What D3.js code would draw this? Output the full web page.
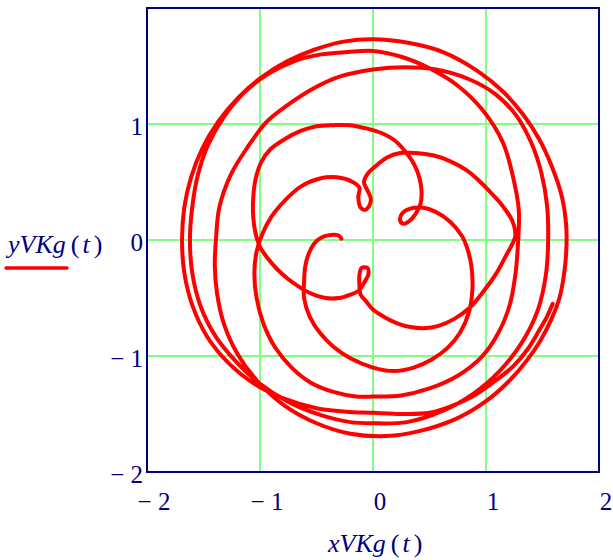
<!DOCTYPE html>
<html>
<head>
<meta charset="utf-8">
<script src="https://cdn.jsdelivr.net/npm/d3@7"></script>
<style>
  html, body { margin: 0; padding: 0; background: #ffffff; }
  svg { display: block; }
  text { font-family: "Liberation Serif", "Times New Roman", serif; fill: #000080; }
</style>
</head>
<body>
<svg id="chart" width="613" height="560"></svg>
<script>
// Parametric trajectory (xVKg(t), yVKg(t)), listed in order of t.
const xVKg = [
  -0.28, -0.30, -0.34, -0.40, -0.46, -0.52, -0.57, -0.60, -0.61,
  -0.61, -0.56, -0.47, -0.35, -0.20, 0.00, 0.18, 0.36, 0.52, 0.66, 0.77, 0.85, 0.88, 0.87, 0.83, 0.79, 0.68, 0.55, 0.43,
  0.33, 0.26, 0.24, 0.27, 0.33, 0.38, 0.42, 0.43, 0.41, 0.36, 0.28, 0.19,
  0.08, -0.05, -0.20, -0.35, -0.50, -0.64, -0.78, -0.91, -0.99, -1.04, -1.06, -1.06, -1.04, -1.00,
  -0.93, -0.85, -0.76, -0.66, -0.55, -0.42, -0.30, -0.20,
  -0.13, -0.08, -0.04, -0.05, -0.10, -0.12, -0.12, -0.11, -0.06, 0.00, 0.11, 0.22, 0.33,
  0.45, 0.58, 0.72, 0.86, 0.98, 1.09, 1.18, 1.23, 1.26, 1.23, 1.15, 1.06, 0.95, 0.83, 0.68, 0.53, 0.38, 0.24,
  0.12, 0.04, -0.04, -0.08, -0.05, -0.02, -0.03, -0.07, -0.11, -0.13, -0.12, -0.18, -0.32, -0.47, -0.64,
  -0.78, -0.90, -0.98, -1.03, -1.05, -1.03, -0.97, -0.87, -0.72, -0.55, -0.35, -0.15, 0.00,
  0.25, 0.50, 0.75, 0.96, 1.11, 1.21, 1.26, 1.28,
  1.29, 1.24, 1.15, 0.97, 0.75, 0.50, 0.25, 0.00,
  -0.23, -0.46, -0.70, -0.93, -1.14, -1.32, -1.46, -1.55, -1.60, -1.62,
  -1.60, -1.53, -1.40, -1.22, -1.00, -0.74, -0.46, -0.20, 0.00,
  0.30, 0.60, 0.88, 1.12, 1.32, 1.46, 1.53, 1.55,
  1.54, 1.49, 1.40, 1.27, 1.08, 0.84, 0.56, 0.28, 0.00,
  -0.29, -0.52, -0.76, -0.94, -1.11, -1.26, -1.36, -1.39,
  -1.40, -1.38, -1.32, -1.20, -1.02, -0.78, -0.50, -0.20, 0.12,
  0.40, 0.74, 1.00, 1.20, 1.36, 1.48, 1.58, 1.65, 1.69, 1.71,
  1.71, 1.67, 1.58, 1.47, 1.33, 1.15, 0.92, 0.62, 0.31, 0.00,
  -0.26, -0.52, -0.76, -0.99, -1.19, -1.37, -1.51, -1.61, -1.67, -1.69,
  -1.67, -1.60, -1.47, -1.28, -1.05, -0.78, -0.50, -0.24, 0.00,
  0.25, 0.50, 0.70, 0.88, 1.06, 1.24, 1.37, 1.47, 1.54, 1.59
];
const yVKg = [
  0.01, 0.035, 0.045, 0.04, 0.02, -0.03, -0.12, -0.23, -0.36,
  -0.50, -0.66, -0.80, -0.92, -1.02, -1.10, -1.13, -1.10, -1.03, -0.93, -0.80, -0.62, -0.42, -0.22, -0.06, 0.03, 0.16, 0.245, 0.28,
  0.27, 0.23, 0.17, 0.14, 0.17, 0.23, 0.31, 0.42, 0.54, 0.66, 0.77, 0.86,
  0.92, 0.96, 0.99, 0.99, 0.98, 0.94, 0.87, 0.78, 0.67, 0.52, 0.36, 0.20, 0.06, -0.06,
  -0.16, -0.25, -0.33, -0.40, -0.46, -0.50, -0.50, -0.47,
  -0.44, -0.37, -0.29, -0.24, -0.24, -0.30, -0.39, -0.47, -0.53, -0.60, -0.67, -0.72, -0.75,
  -0.76, -0.74, -0.68, -0.58, -0.44, -0.29, -0.13, -0.04, 0.04, 0.17, 0.29, 0.39, 0.50, 0.60, 0.68, 0.73, 0.75, 0.75,
  0.71, 0.65, 0.58, 0.50, 0.43, 0.36, 0.30, 0.26, 0.28, 0.37, 0.45, 0.50, 0.54, 0.53, 0.46,
  0.34, 0.20, 0.05, -0.10, -0.29, -0.50, -0.72, -0.92, -1.10, -1.23, -1.31, -1.35, -1.35,
  -1.34, -1.28, -1.17, -1.01, -0.80, -0.56, -0.30, -0.08,
  0.26, 0.54, 0.84, 1.12, 1.33, 1.48, 1.58, 1.63,
  1.62, 1.60, 1.54, 1.43, 1.27, 1.06, 0.82, 0.56, 0.28, 0.00,
  -0.28, -0.56, -0.82, -1.04, -1.24, -1.40, -1.51, -1.57, -1.58,
  -1.57, -1.48, -1.33, -1.13, -0.88, -0.60, -0.30, 0.00,
  0.30, 0.58, 0.84, 1.07, 1.26, 1.39, 1.47, 1.49, 1.47,
  1.41, 1.31, 1.16, 1.02, 0.80, 0.56, 0.28, 0.00,
  -0.22, -0.46, -0.72, -0.98, -1.22, -1.43, -1.58, -1.67, -1.69,
  -1.65, -1.54, -1.39, -1.22, -1.04, -0.87, -0.68, -0.50, -0.30, -0.10,
  0.12, 0.38, 0.64, 0.87, 1.08, 1.28, 1.46, 1.62, 1.70, 1.73,
  1.71, 1.64, 1.54, 1.40, 1.23, 1.02, 0.79, 0.54, 0.28, 0.00,
  -0.28, -0.56, -0.83, -1.06, -1.24, -1.37, -1.45, -1.48, -1.49,
  -1.50, -1.49, -1.43, -1.35, -1.23, -1.09, -0.94, -0.78, -0.66, -0.55
];

// Axis ticks and their printed labels
const xTickValues = [-2, -1, 0, 1, 2];
const xTickLabels = ["\u2212 2", "\u2212 1", "0", "1", "2"];
const yTickValues = [-2, -1, 0, 1];
const yTickLabels = ["\u2212 2", "\u2212 1", "0", "1"];
const gridValues = [-1, 0, 1];

const svg = d3.select("#chart");
const plotLeft = 147, plotRight = 599, plotTop = 8, plotBottom = 472;

const x = d3.scaleLinear().domain([-2, 2]).range([plotLeft, plotRight]);
const y = d3.scaleLinear().domain([-2, 2]).range([plotBottom, plotTop]);

const navy = "#000080";

// Grid lines
const grid = svg.append("g").attr("stroke", "#80ff80").attr("stroke-width", 2);
grid.selectAll("line.gx").data(gridValues).join("line")
  .attr("class", "gx")
  .attr("x1", d => x(d)).attr("x2", d => x(d))
  .attr("y1", plotTop).attr("y2", plotBottom);
grid.selectAll("line.gy").data(gridValues).join("line")
  .attr("class", "gy")
  .attr("x1", plotLeft).attr("x2", plotRight)
  .attr("y1", d => y(d)).attr("y2", d => y(d));

// Trajectory
const pts = xVKg.map((v, i) => [v, yVKg[i]]);
const line = d3.line()
  .x(d => x(d[0]))
  .y(d => y(d[1]))
  .curve(d3.curveCatmullRom.alpha(0.5));

svg.append("path")
  .datum(pts)
  .attr("d", line)
  .attr("fill", "none")
  .attr("stroke", "#ff0000")
  .attr("stroke-width", 4)
  .attr("stroke-linejoin", "round")
  .attr("stroke-linecap", "round");

// Plot frame
svg.append("rect")
  .attr("x", plotLeft).attr("y", plotTop)
  .attr("width", plotRight - plotLeft).attr("height", plotBottom - plotTop)
  .attr("fill", "none")
  .attr("stroke", navy)
  .attr("stroke-width", 2);

// Tick labels
svg.append("g").selectAll("text").data(xTickValues).join("text")
  .attr("x", d => x(d) + 7)
  .attr("y", 510)
  .attr("text-anchor", "middle")
  .attr("font-size", 25)
  .text((d, i) => xTickLabels[i]);

svg.append("g").selectAll("text").data(yTickValues).join("text")
  .attr("x", 143)
  .attr("y", d => y(d) + 11)
  .attr("text-anchor", "end")
  .attr("font-size", 25)
  .text((d, i) => yTickLabels[i]);

// Axis titles
function title(sel, name) {
  sel.append("tspan").attr("font-style", "italic").text(name);
  sel.append("tspan").attr("dx", 5).text("(");
  sel.append("tspan").attr("dx", 3).attr("font-style", "italic").text("t");
  sel.append("tspan").attr("dx", 4).text(")");
}
svg.append("text").attr("x", 328).attr("y", 552).attr("font-size", 26)
  .call(title, "xVKg");
svg.append("text").attr("x", 8).attr("y", 253).attr("font-size", 26)
  .call(title, "yVKg");

// Legend stroke under the y title
svg.append("line")
  .attr("x1", 6).attr("x2", 67)
  .attr("y1", 268).attr("y2", 268)
  .attr("stroke", "#ff0000")
  .attr("stroke-width", 3.5)
  .attr("stroke-linecap", "round");
</script>
</body>
</html>
